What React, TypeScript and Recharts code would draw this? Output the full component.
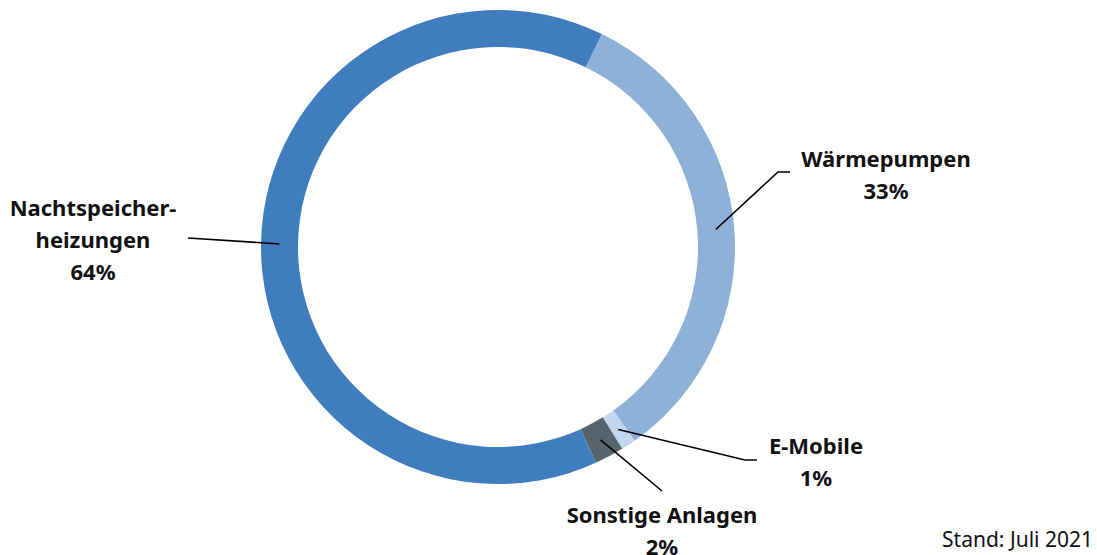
import { PieChart, Pie, Cell } from "recharts";

const categories = ["Wärmepumpen", "E-Mobile", "Sonstige Anlagen", "Nachtspeicherheizungen"];
const shares = [33, 1, 2, 64];
const colors = ["#8eb1da", "#c2d6ed", "#56646d", "#407dbf"];
const labelLines = [["Wärmepumpen"], ["E-Mobile"], ["Sonstige Anlagen"], ["Nachtspeicher-", "heizungen"]];

const data = categories.map((name, i) => ({ name, value: shares[i] }));

// leader line elbow / end and text anchor for each slice
const labelLayout = [
  { elbow: [778, 172], end: [790, 172], text: [886, 167] },
  { elbow: [745, 460], end: [757, 460], text: [816, 454] },
  { elbow: [662, 491], end: [662, 491], text: [662, 523] },
  { elbow: [188, 238], end: [188, 238], text: [93, 216] },
];

const FONT = "'Noto Sans', 'Open Sans', sans-serif";
const RAD = Math.PI / 180;

function renderLabel(props: any) {
  const { cx, cy, midAngle, innerRadius, outerRadius, index, value } = props;
  const r = (innerRadius + outerRadius) / 2;
  const sx = cx + r * Math.cos(-midAngle * RAD);
  const sy = cy + r * Math.sin(-midAngle * RAD);
  const lay = labelLayout[index];
  const lines = [...labelLines[index], `${value}%`];
  return (
    <g key={`lbl-${index}`}>
      <polyline
        points={`${sx},${sy} ${lay.elbow[0]},${lay.elbow[1]} ${lay.end[0]},${lay.end[1]}`}
        fill="none"
        stroke="#000"
        strokeWidth={1.6}
      />
      <text
        x={lay.text[0]}
        y={lay.text[1]}
        textAnchor="middle"
        fontFamily={FONT}
        fontWeight={700}
        fontSize={22}
        fill="#111"
      >
        {lines.map((t, i) => (
          <tspan key={i} x={lay.text[0]} dy={i === 0 ? 0 : 32}>
            {t}
          </tspan>
        ))}
      </text>
    </g>
  );
}

export default function App() {
  return (
    <div style={{ position: "absolute", left: 0, top: 0, width: 1097, height: 555, background: "#fff" }}>
      <PieChart width={1097} height={555} margin={{ top: 0, right: 0, bottom: 0, left: 0 }}>
        <Pie
          data={data}
          dataKey="value"
          nameKey="name"
          cx={498}
          cy={247}
          innerRadius={200}
          outerRadius={237}
          startAngle={64}
          endAngle={-296}
          stroke="none"
          label={renderLabel}
          labelLine={false}
          isAnimationActive={false}
        >
          {data.map((d, i) => (
            <Cell key={d.name} fill={colors[i]} />
          ))}
        </Pie>
      </PieChart>
      <div
        style={{
          position: "absolute",
          right: 4,
          top: 527,
          fontFamily: FONT,
          fontSize: 21,
          color: "#111",
          lineHeight: "24px",
        }}
      >
        Stand: Juli 2021
      </div>
    </div>
  );
}
